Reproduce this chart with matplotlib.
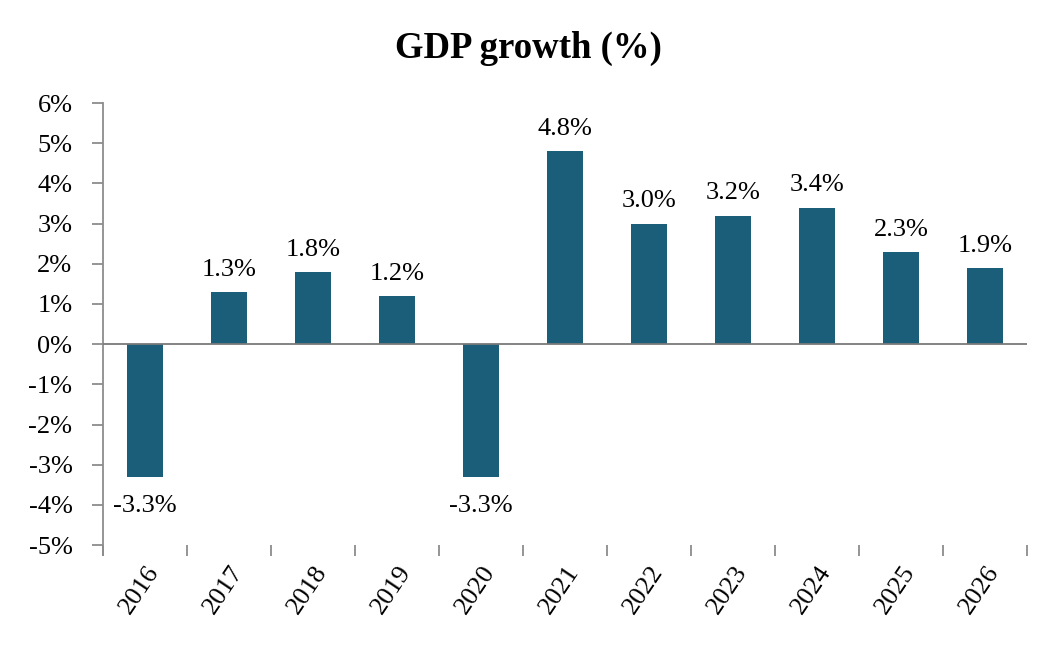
import numpy as np
import matplotlib
matplotlib.use("Agg")
import matplotlib.pyplot as plt
import matplotlib.transforms as mtransforms
from matplotlib.ticker import FixedLocator, FuncFormatter

years = ["2016", "2017", "2018", "2019", "2020", "2021",
         "2022", "2023", "2024", "2025", "2026"]
growth = [-3.3, 1.3, 1.8, 1.2, -3.3, 4.8, 3.0, 3.2, 3.4, 2.3, 1.9]
y_ticks = [-5, -4, -3, -2, -1, 0, 1, 2, 3, 4, 5, 6]

BAR_COLOR = "#1b5e7a"
AXIS_GREY = "#8c8c8c"
FS = 19

plt.rcParams['font.family'] = ['Liberation Serif', 'DejaVu Serif']

fig = plt.figure(figsize=(10.56, 6.52), dpi=100)
ax = fig.add_axes([0.0975, 0.164, 0.875, 0.678])

x = np.arange(len(years))
ax.bar(x, growth, width=0.42, color=BAR_COLOR, zorder=2)

# value labels
for xi, v in zip(x, growth):
    if v >= 0:
        ax.annotate(f"{v:.1f}%", (xi, v), xytext=(0, 8), textcoords="offset points",
                    ha="center", va="bottom", fontsize=FS)
    else:
        ax.annotate(f"{v:.1f}%", (xi, v), xytext=(0, -13), textcoords="offset points",
                    ha="center", va="top", fontsize=FS)

ax.axhline(0, color="#7a7a7a", linewidth=1.3, zorder=3)

ax.set_xlim(-0.5, len(years) - 0.5)
ax.set_ylim(-5, 6)
ax.set_yticks(y_ticks)
ax.yaxis.set_major_formatter(FuncFormatter(lambda v, p: f"{int(v)}%"))

ax.set_xticks(x)
ax.set_xticklabels(years, rotation=56, ha="right", rotation_mode="anchor", fontsize=FS)
shift = mtransforms.ScaledTranslation(-5 / 100, 0, fig.dpi_scale_trans)
for lbl in ax.get_xticklabels():
    lbl.set_transform(lbl.get_transform() + shift)
ax.xaxis.set_minor_locator(FixedLocator(np.arange(-0.5, len(years), 1.0)))
ax.tick_params(axis="x", which="major", length=0, pad=12)
ax.tick_params(axis="x", which="minor", length=8, width=1.3, color=AXIS_GREY, direction="out")
ax.tick_params(axis="y", labelsize=FS, length=8, width=1.3, color=AXIS_GREY, pad=14)

for s in ["top", "right", "bottom"]:
    ax.spines[s].set_visible(False)
ax.spines["left"].set_color(AXIS_GREY)
ax.spines["left"].set_linewidth(1.3)
ax.spines["left"].set_bounds(-5.25, 6)

fig.text(0.5, 0.926, "GDP growth (%)", fontsize=26.5, fontweight="bold",
         ha="center", va="center")

fig.savefig("out.png", dpi=100)
